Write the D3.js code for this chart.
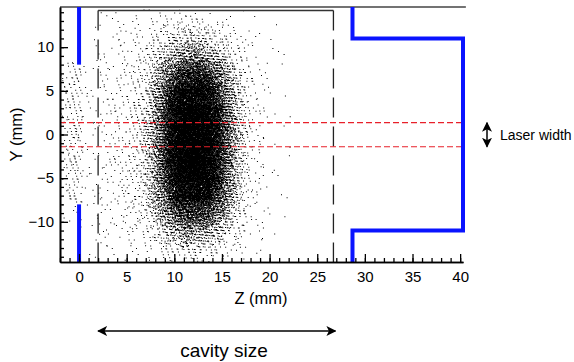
<!DOCTYPE html>
<html>
<head>
<meta charset="utf-8">
<script src="https://cdn.jsdelivr.net/npm/d3@7"></script>
<style>
  body { margin: 0; background: #fff; }
  text { font-family: "Liberation Sans", Arial, sans-serif; fill: #000; }
</style>
</head>
<body>
<svg id="chart"></svg>
<script>
// ---- data ----
// left edges (mm) of the 1 mm wide Z bins used for the point density grid
const zBinLeft = [-2, -1, 0, 1, 2, 3, 4, 5, 6, 7, 8, 9, 10, 11, 12, 13, 14, 15, 16, 17, 18, 19, 20, 21];
// upper edges (mm) of the 2 mm tall Y bins
const yBinTop = [14, 12, 10, 8, 6, 4, 2, 0, -2, -4, -6, -8, -10, -12];
// estimated number of hits in each (Y bin, Z bin) cell
const hitCounts = [
  [0, 0, 1, 1, 2, 2, 3, 3, 4, 5, 6, 8, 9, 9, 7, 5, 4, 3, 2, 1, 1, 0, 0, 0],
  [0, 0, 1, 1, 2, 3, 3, 4, 5, 8, 14, 22, 30, 34, 32, 26, 17, 10, 5, 3, 2, 1, 1, 0],
  [0, 1, 1, 2, 3, 4, 5, 6, 8, 14, 30, 55, 80, 95, 92, 75, 50, 27, 12, 5, 3, 2, 1, 1],
  [6, 15, 2, 3, 4, 5, 6, 7, 11, 26, 65, 130, 200, 240, 235, 195, 125, 62, 24, 9, 4, 2, 1, 1],
  [6, 18, 2, 3, 4, 5, 6, 8, 14, 36, 100, 205, 310, 360, 355, 300, 200, 98, 36, 11, 4, 2, 1, 1],
  [5, 18, 2, 3, 4, 5, 7, 9, 17, 45, 125, 260, 400, 465, 460, 390, 255, 125, 44, 13, 5, 2, 1, 1],
  [5, 18, 2, 3, 4, 5, 7, 9, 18, 48, 135, 285, 440, 510, 505, 430, 280, 135, 46, 14, 5, 2, 1, 1],
  [5, 18, 2, 3, 4, 5, 7, 9, 18, 49, 138, 290, 450, 520, 515, 440, 285, 138, 47, 14, 5, 2, 1, 1],
  [5, 18, 2, 3, 4, 5, 7, 9, 17, 47, 132, 280, 430, 500, 495, 420, 275, 132, 45, 13, 5, 2, 1, 1],
  [5, 16, 2, 3, 4, 5, 7, 8, 16, 43, 120, 250, 390, 450, 445, 375, 245, 120, 41, 12, 4, 2, 1, 1],
  [5, 15, 2, 3, 4, 5, 6, 8, 14, 35, 95, 195, 300, 345, 340, 290, 190, 95, 33, 10, 4, 2, 1, 1],
  [1, 2, 2, 3, 4, 5, 5, 7, 10, 23, 58, 115, 175, 205, 200, 170, 112, 56, 22, 8, 3, 2, 1, 1],
  [0, 0, 1, 2, 3, 3, 4, 5, 7, 12, 26, 48, 70, 80, 78, 66, 45, 24, 11, 5, 3, 2, 1, 0],
  [0, 0, 1, 1, 2, 2, 3, 3, 4, 6, 9, 14, 19, 22, 21, 18, 13, 8, 5, 3, 2, 1, 0, 0]
];

const xTicks = [0, 5, 10, 15, 20, 25, 30, 35, 40];
const yTicks = [-10, -5, 0, 5, 10];

// geometry of the setup (mm)
const apertureZ = 0, apertureHalf = 8;
const cavity = {z0: 2.0, z1: 26.7, top: 14.2};
const chamber = {z0: 28.7, z1: 40.3, half: 11};
const laserY = [1.35, -1.4];

// ---- layout ----
const width = 574, height = 362;
const margin = {top: 7, right: 111, bottom: 100, left: 60};

const svg = d3.select('#chart')
    .attr('width', width)
    .attr('height', height);

const x = d3.scaleLinear()
    .domain([-2, 40.3])
    .range([margin.left, width - margin.right]);

const y = d3.scaleLinear()
    .domain([-14.6, 14.6])
    .range([height - margin.bottom, margin.top]);

// ---- scatter points ----
// each cell's hits are spread with a tent footprint (one bin either side)
// using a 4-d Kronecker low-discrepancy sequence, so cell edges don't show
const phi = 1.1673039782614187;
const al = [1 / phi, 1 / phi ** 2, 1 / phi ** 3, 1 / phi ** 4];
const frac = v => v - Math.floor(v);
let g = 0;
let d = '';
hitCounts.forEach((row, r) => {
    row.forEach((n, c) => {
        for (let k = 0; k < n; k++) {
            g++;
            const u = frac(0.5 + g * al[0]) + frac(0.5 + g * al[1]) - 0.5;
            const v = frac(0.5 + g * al[2]) + frac(0.5 + g * al[3]) - 0.5;
            const zv = zBinLeft[c] + u;
            const yv = yBinTop[r] - 2 * v;
            if (zv < -2 || yv > 14.5 || yv < -14.5) continue;
            d += `M${x(zv).toFixed(1)},${y(yv).toFixed(1)}h1v1h-1z`;
        }
    });
});
svg.append('path')
    .attr('d', d)
    .attr('fill', '#000');

// ---- frame top line ----
svg.append('line')
    .attr('x1', x(-2)).attr('x2', x(40.6))
    .attr('y1', y(14.6)).attr('y2', y(14.6))
    .attr('stroke', '#444')
    .attr('stroke-width', 1.5);

// ---- cavity box ----
svg.append('line')
    .attr('x1', x(cavity.z0)).attr('x2', x(cavity.z1))
    .attr('y1', y(cavity.top)).attr('y2', y(cavity.top))
    .attr('stroke', '#333').attr('stroke-width', 1.3);
[cavity.z0, cavity.z1].forEach(z => {
    svg.append('line')
        .attr('x1', x(z)).attr('x2', x(z))
        .attr('y1', y(cavity.top)).attr('y2', y(-14.6))
        .attr('stroke', '#222').attr('stroke-width', 1.3)
        .attr('stroke-dasharray', '20,9');
});

// ---- laser lines ----
laserY.forEach(v => {
    svg.append('line')
        .attr('x1', x(-2)).attr('x2', x(40.3))
        .attr('y1', y(v)).attr('y2', y(v))
        .attr('stroke', '#e8202a').attr('stroke-width', 1.2)
        .attr('stroke-dasharray', '6,3');
});

// ---- blue walls ----
const blue = '#0a14ff';
const wallLine = d3.line().x(p => x(p[0])).y(p => y(p[1]));
[[[apertureZ, 14.6], [apertureZ, apertureHalf]],
 [[apertureZ, -apertureHalf], [apertureZ, -14.6]],
 [[chamber.z0, 14.6], [chamber.z0, chamber.half], [chamber.z1, chamber.half],
  [chamber.z1, -chamber.half], [chamber.z0, -chamber.half], [chamber.z0, -14.6]]
].forEach(pts => {
    svg.append('path')
        .attr('d', wallLine(pts))
        .attr('fill', 'none')
        .attr('stroke', blue)
        .attr('stroke-width', 4)
        .attr('stroke-linejoin', 'miter');
});

// ---- axes ----
const xMinor = d3.axisBottom(x).tickValues(d3.range(-2, 41)).tickSize(-4).tickSizeOuter(0).tickFormat('');
const xMajor = d3.axisBottom(x).tickValues(xTicks).tickSize(-8).tickSizeOuter(0).tickPadding(9);
const yMinor = d3.axisLeft(y).tickValues(d3.range(-14, 15)).tickSize(-4).tickSizeOuter(0).tickFormat('');
const yMajor = d3.axisLeft(y).tickValues(yTicks).tickSize(-8).tickSizeOuter(0).tickPadding(6);

function styleAxis(sel) {
    sel.attr('font-family', '"Liberation Sans", Arial, sans-serif')
        .attr('font-size', 15);
    sel.selectAll('.tick line').attr('stroke', '#000').attr('stroke-width', 1.3);
    sel.selectAll('.domain').attr('stroke', '#000').attr('stroke-width', 1.6);
}

const xAxisPos = `translate(0,${height - margin.bottom})`;
svg.append('g').attr('transform', xAxisPos).call(xMinor).call(styleAxis);
svg.append('g').attr('transform', xAxisPos).call(xMajor).call(styleAxis);
svg.append('g').attr('transform', `translate(${margin.left},0)`).call(yMinor).call(styleAxis);
svg.append('g').attr('transform', `translate(${margin.left},0)`).call(yMajor).call(styleAxis);

// axis titles
svg.append('text')
    .attr('x', 261).attr('y', 304)
    .attr('text-anchor', 'middle')
    .attr('font-size', 16.5)
    .text('Z (mm)');

svg.append('text')
    .attr('transform', `translate(22,${y(0)}) rotate(-90)`)
    .attr('text-anchor', 'middle')
    .attr('font-size', 16.5)
    .text('Y (mm)');

// ---- cavity size arrow ----
svg.append('defs').append('marker')
    .attr('id', 'head')
    .attr('viewBox', '0 0 10 10')
    .attr('refX', 9).attr('refY', 5)
    .attr('markerWidth', 10).attr('markerHeight', 10)
    .attr('markerUnits', 'userSpaceOnUse')
    .attr('orient', 'auto-start-reverse')
    .append('path')
    .attr('d', 'M0,0L10,5L0,10L2.5,5z')
    .attr('fill', '#000');

svg.append('line')
    .attr('x1', x(cavity.z0)).attr('x2', x(cavity.z1) + 2)
    .attr('y1', 331).attr('y2', 331)
    .attr('stroke', '#000').attr('stroke-width', 1.5)
    .attr('marker-start', 'url(#head)')
    .attr('marker-end', 'url(#head)');

svg.append('text')
    .attr('x', 224).attr('y', 357)
    .attr('text-anchor', 'middle')
    .attr('font-size', 19)
    .text('cavity size');

// ---- laser width arrow ----
svg.append('line')
    .attr('x1', 487).attr('x2', 487)
    .attr('y1', y(laserY[0])).attr('y2', y(laserY[1]))
    .attr('stroke', '#000').attr('stroke-width', 1.5)
    .attr('marker-start', 'url(#head)')
    .attr('marker-end', 'url(#head)');

svg.append('text')
    .attr('x', 500).attr('y', y(0) + 5)
    .attr('font-size', 14)
    .text('Laser width');
</script>
</body>
</html>
